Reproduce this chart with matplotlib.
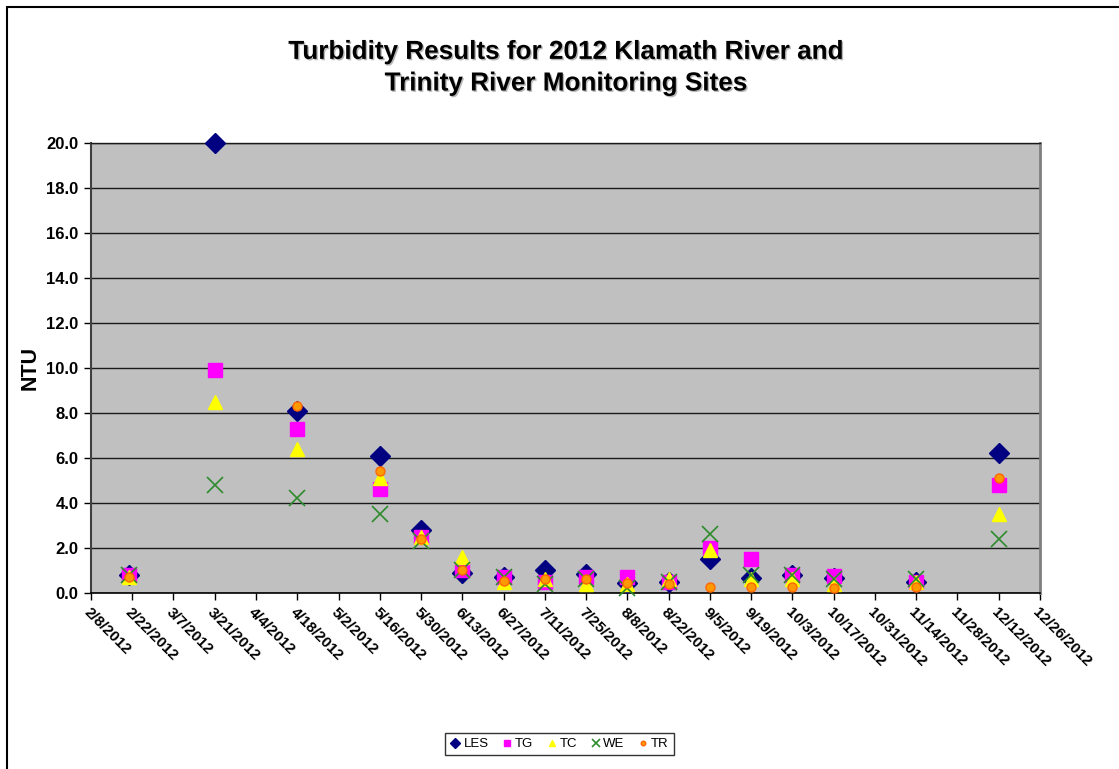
import datetime as dt
import matplotlib
matplotlib.use("Agg")
import matplotlib.pyplot as plt
import matplotlib.patheffects as pe
from matplotlib.patches import Rectangle

# sampling dates (2012) and turbidity per site, NTU
dates = ["2/21", "3/21", "4/18", "5/16", "5/30", "6/13", "6/27", "7/11", "7/25",
         "8/8", "8/22", "9/5", "9/19", "10/3", "10/17", "11/14", "12/12"]
les = [0.8, 20.0, 8.1, 6.1, 2.8, 0.9, 0.7, 1.0, 0.85, 0.45, 0.5, 1.5, 0.65, 0.8, 0.65, 0.5, 6.2]
tg = [0.8, 9.9, 7.3, 4.6, 2.5, 1.0, 0.7, 0.5, 0.7, 0.7, 0.5, 2.0, 1.5, 0.8, 0.75, 0.5, 4.8]
tc = [0.7, 8.5, 6.4, 5.1, 2.5, 1.6, 0.5, 0.6, 0.4, 0.4, 0.6, 1.9, 0.6, 0.6, 0.4, 0.5, 3.5]
we = [0.8, 4.8, 4.2, 3.5, 2.3, 1.0, 0.7, 0.4, 0.6, 0.2, 0.5, 2.6, 0.8, 0.8, 0.6, 0.6, 2.4]
tr = [0.7, None, 8.3, 5.4, 2.4, 1.0, 0.55, 0.6, 0.6, 0.45, 0.4, 0.25, 0.27, 0.27, 0.2, 0.25, 5.1]

x = [dt.datetime.strptime(d + "/2012", "%m/%d/%Y") for d in dates]

series = [
    ("LES", les, dict(marker="D", ms=10.2, mfc="#000080", mec="#000080")),
    ("TG", tg, dict(marker="s", ms=9.5, mfc="#FF00FF", mec="#FF00FF")),
    ("TC", tc, dict(marker="^", ms=9.5, mfc="#FFFF00", mec="#FFFF00")),
    ("WE", we, dict(marker="x", ms=11.5, mec="#2E8B2E", mew=1.2)),
    ("TR", tr, dict(marker="o", ms=6.5, mfc="#FF9900", mec="#FF6600", mew=1)),
]

fig = plt.figure(figsize=(11.19, 7.69), dpi=100)
ax = fig.add_axes([0.0813, 0.2289, 0.8481, 0.5851])
ax.set_facecolor("#C0C0C0")

for name, vals, style in series:
    pts = [(xi, v) for xi, v in zip(x, vals) if v is not None]
    ax.plot([p[0] for p in pts], [p[1] for p in pts], ls="none", label=name,
            clip_on=False, zorder=3, **style)

start = dt.datetime(2012, 2, 8)
end = dt.datetime(2012, 12, 26)
ax.set_xlim(start, end)
ax.set_ylim(0, 20)
ax.set_yticks([i * 2.0 for i in range(11)])
ax.yaxis.set_major_formatter(plt.FuncFormatter(lambda v, p: f"{v:.1f}"))

ticks = [start + dt.timedelta(days=14 * i) for i in range(24)]
ax.set_xticks(ticks)
ax.set_xticklabels([f"{t.month}/{t.day}/{t.year}" for t in ticks])
plt.setp(ax.get_xticklabels(), rotation=-45, ha="left", va="top",
         rotation_mode="anchor", fontsize=11, fontweight="bold",
         family="Liberation Sans")
plt.setp(ax.get_yticklabels(), fontsize=12, fontweight="bold", family="Liberation Sans")
ax.tick_params(axis="both", direction="out", length=5, width=1, color="black", pad=4)

ax.grid(axis="y", color="#1a1a1a", lw=1)
ax.set_axisbelow(True)
ax.spines["left"].set_color("#404040")
ax.spines["left"].set_linewidth(1.5)
ax.spines["bottom"].set_color("black")
ax.spines["bottom"].set_linewidth(1.2)
ax.spines["top"].set_color("#1a1a1a")
ax.spines["top"].set_linewidth(1)
ax.spines["right"].set_color("#808080")
ax.spines["right"].set_linewidth(2)

ax.set_ylabel("NTU", fontsize=15.5, fontweight="bold", family="Liberation Sans", labelpad=4)

shadow = [pe.withSimplePatchShadow(offset=(1, -1), shadow_rgbFace="#888888", alpha=0.6)]
fig.text(0.506, 0.912, "Turbidity Results for 2012 Klamath River and\nTrinity River Monitoring Sites",
         ha="center", va="center", fontsize=18.8, fontweight="bold",
         family="Liberation Sans", linespacing=1.4, path_effects=shadow)

leg = fig.legend(loc="center", bbox_to_anchor=(0.5, 0.0325), ncol=5, frameon=True,
                 fancybox=False, edgecolor="black", markerscale=0.5,
                 handlelength=0.8, handletextpad=0.2, columnspacing=1.0,
                 borderpad=0.4, prop={"family": "Liberation Sans", "size": 9.5})
leg.get_frame().set_linewidth(1)

# chart outline, open on the right and bottom
fig.patches.append(Rectangle((7 / 1119, -0.2), 1.2, 1.2 - 7 / 769, transform=fig.transFigure,
                             fill=False, edgecolor="black", lw=1.5))

fig.savefig("out.png", dpi=100)
